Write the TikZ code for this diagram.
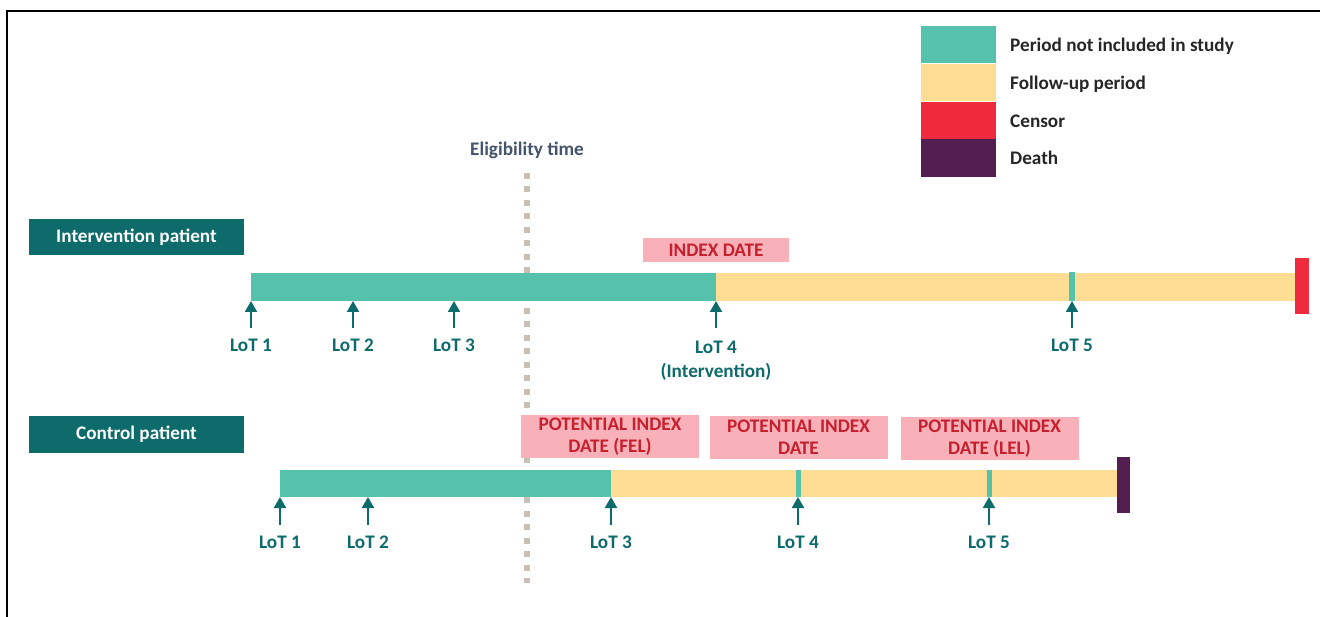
\documentclass[tikz,border=0pt]{standalone}
\usepackage{fontspec}
\setmainfont{Carlito}
\usetikzlibrary{arrows.meta,positioning}
\definecolor{darkteal}{HTML}{0E6B6B}
\definecolor{excluded}{HTML}{57C2AC}
\definecolor{followup}{HTML}{FDDC93}
\definecolor{censor}{HTML}{EE2A3C}
\definecolor{death}{HTML}{521E4F}
\definecolor{pinkbox}{HTML}{F8B1B8}
\definecolor{pinktext}{HTML}{C61F2E}
\definecolor{slate}{HTML}{44546A}
\definecolor{dotgrey}{HTML}{C8C0B6}

\begin{document}
\begin{tikzpicture}[x=1pt,y=-1pt,font=\fontsize{19.2}{22}\selectfont\bfseries]
  \tikzstyle{lot}=[text=darkteal, inner sep=0pt, anchor=north, align=center, font=\fontsize{19.2}{24}\selectfont\bfseries]
  \tikzstyle{lotarrow}=[darkteal, line width=2pt, -{Triangle[width=12pt,length=11pt]}, shorten <=11pt]
  \tikzstyle{patient}=[fill=darkteal, text=white, minimum width=215pt, minimum height=36pt, inner sep=0pt]
  \tikzstyle{index}=[fill=pinkbox, text=pinktext, minimum width=178pt, minimum height=43pt, inner sep=0pt, align=center]
  \tikzstyle{key}=[minimum width=75pt, minimum height=37.5pt, inner sep=0pt]
  \tikzstyle{keytext}=[anchor=west, inner sep=0pt, text=black!85]

  \useasboundingbox (0,0) rectangle (1320,617);
  \draw[line width=2pt] (7,617) -- (7,11) -- (1320,11);

  % legend
  \node[key, fill=excluded] (k1) at (958.5,44.5) {};
  \node[key, fill=followup, below=0pt of k1] (k2) {};
  \node[key, fill=censor, below=0pt of k2] (k3) {};
  \node[key, fill=death, below=0pt of k3] (k4) {};
  \node[keytext] (t1) at (1010,46) {Period not included in study};
  \node[keytext] (t2) at (1010,84) {Follow-up period};
  \node[keytext] (t3) at (1010,121) {Censor};
  \node[keytext] (t4) at (1010,158) {Death};

  % eligibility time
  \node[text=slate] (elig) at (527,150) {Eligibility time};
  \draw[dotgrey, line width=6pt, dash pattern=on 6pt off 7.5pt] (527,173) -- (527,583);

  % intervention patient
  \node[patient] (ip) at (136.5,237) {Intervention patient};
  \node[index, minimum width=146pt, minimum height=24pt] (idx) at (716,250) {INDEX DATE};
  \fill[excluded] (251,273) rectangle (716,301);
  \fill[followup] (716,273) rectangle (1296,301);
  \fill[excluded] (1069,272) rectangle (1075,301);
  \fill[censor] (1295,258) rectangle (1309,314);

  \node[lot] (i1) at (251,339) {LoT 1};
  \node[lot] (i2) at (353,339) {LoT 2};
  \node[lot] (i3) at (454,339) {LoT 3};
  \node[lot] (i4) at (716,341) {LoT 4\\(Intervention)};
  \node[lot] (i5) at (1072,339) {LoT 5};
  \coordinate (ia1) at (251,301);
  \coordinate (ia2) at (353,301);
  \coordinate (ia3) at (454,301);
  \coordinate (ia4) at (716,301);
  \coordinate (ia5) at (1072,301);
  \draw[lotarrow] (i1) -- (ia1);
  \draw[lotarrow] (i2) -- (ia2);
  \draw[lotarrow] (i3) -- (ia3);
  \draw[lotarrow, shorten <=13pt] (i4) -- (ia4);
  \draw[lotarrow] (i5) -- (ia5);

  % control patient
  \node[patient] (cp) at (136.5,434.5) {Control patient};
  \node[index] (p1) at (610,436.5) {POTENTIAL INDEX\\DATE (FEL)};
  \node[index] (p2) at (798.5,437.5) {POTENTIAL INDEX\\DATE};
  \node[index] (p3) at (989.5,438.5) {POTENTIAL INDEX\\DATE (LEL)};
  \fill[excluded] (280,470) rectangle (611,497);
  \fill[followup] (611,470) rectangle (1117,497);
  \fill[excluded] (795.5,470) rectangle (801,497);
  \fill[excluded] (986.5,470) rectangle (992,497);
  \fill[death] (1117,457) rectangle (1130,513);

  \node[lot] (c1) at (280,536) {LoT 1};
  \node[lot] (c2) at (368,536) {LoT 2};
  \node[lot] (c3) at (611,536) {LoT 3};
  \node[lot] (c4) at (798,536) {LoT 4};
  \node[lot] (c5) at (989,536) {LoT 5};
  \coordinate (ca1) at (280,497);
  \coordinate (ca2) at (368,497);
  \coordinate (ca3) at (611,497);
  \coordinate (ca4) at (798,497);
  \coordinate (ca5) at (989,497);
  \draw[lotarrow] (c1) -- (ca1);
  \draw[lotarrow] (c2) -- (ca2);
  \draw[lotarrow] (c3) -- (ca3);
  \draw[lotarrow] (c4) -- (ca4);
  \draw[lotarrow] (c5) -- (ca5);
\end{tikzpicture}
\end{document}
